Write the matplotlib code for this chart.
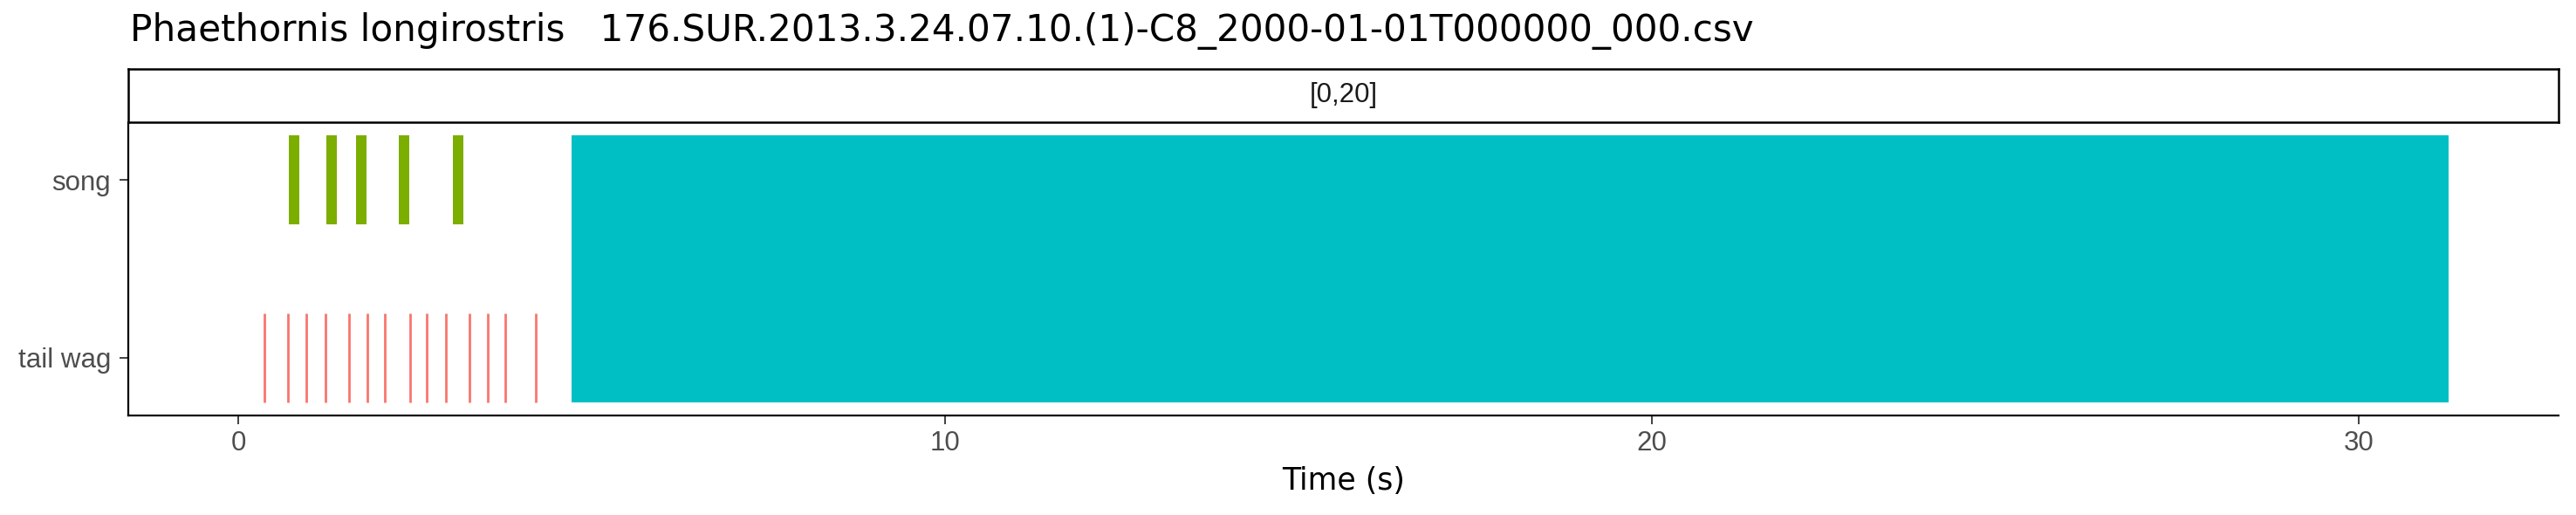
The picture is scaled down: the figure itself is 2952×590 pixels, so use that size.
"""
Ethogram timeline for one recording: song bouts, tail wags and the long
cyan event, drawn as rectangles on a time axis with a ggplot-like facet strip.
"""

import matplotlib
matplotlib.use("Agg")
import matplotlib.pyplot as plt
from matplotlib.patches import Rectangle

plt.rcParams["font.family"] = ["Liberation Sans", "DejaVu Sans"]

TITLE = "Phaethornis longirostris   176.SUR.2013.3.24.07.10.(1)-C8_2000-01-01T000000_000.csv"
STRIP_LABEL = "[0,20]"
BEHAVIOURS = ["tail wag", "song"]

# event times (s)
song_start = [0.716, 1.247, 1.667, 2.272, 3.037]
song_end = [0.864, 1.395, 1.815, 2.420, 3.185]
tail_wag = [0.367, 0.707, 0.967, 1.238, 1.572, 1.831, 2.078, 2.436,
            2.670, 2.938, 3.272, 3.535, 3.781, 4.206]
other_start = [4.716]
other_end = [31.27]

X_TICKS = [0, 10, 20, 30]

COL_SONG = "#7CAE00"
COL_WAG = "#F8766D"
COL_OTHER = "#00BFC4"

W, H, DPI = 2952, 590, 100
fig = plt.figure(figsize=(W / DPI, H / DPI), dpi=DPI)

# panel and strip positions in pixels
left, right, top, bottom = 147, 2932, 140, 476
strip_top = 79
ax = fig.add_axes([left / W, 1 - bottom / H, (right - left) / W, (bottom - top) / H])
sax = fig.add_axes([left / W, 1 - top / H, (right - left) / W, (top - strip_top) / H])

# long event spans both rows
for s, e in zip(other_start, other_end):
    ax.add_patch(Rectangle((s, 0.75), e - s, 1.5, facecolor=COL_OTHER, edgecolor="none"))

for s, e in zip(song_start, song_end):
    ax.add_patch(Rectangle((s, 1.75), e - s, 0.5, facecolor=COL_SONG, edgecolor="none"))

ax.vlines(tail_wag, 0.75, 1.25, color=COL_WAG, linewidth=2.0)

ax.set_xlim(-1.556, 32.83)
ax.set_ylim(0.675, 2.325)
ax.set_xticks(X_TICKS)
ax.set_xticklabels([str(t) for t in X_TICKS])
ax.set_yticks([1, 2])
ax.set_yticklabels(BEHAVIOURS)
ax.tick_params(axis="both", labelsize=22.5, labelcolor="#4D4D4D", color="#333333",
               length=7.2, width=1.3)
ax.tick_params(axis="x", pad=5)
ax.tick_params(axis="y", pad=7)
ax.spines[["top", "right"]].set_visible(False)
for sp in ("left", "bottom"):
    ax.spines[sp].set_linewidth(1.6)
    ax.spines[sp].set_color("black")

# facet strip
sax.set_xticks([])
sax.set_yticks([])
for sp in sax.spines.values():
    sp.set_linewidth(1.8)
    sp.set_color("black")
sax.text(0.5, 0.5, STRIP_LABEL, ha="center", va="center", fontsize=22.5,
         color="#1A1A1A", transform=sax.transAxes)

# axis title and plot title placed in figure pixels
fig.text((left + right) / 2 / W, 1 - 560.7 / H, "Time (s)", ha="center", va="baseline",
         fontsize=25, color="black", family="DejaVu Sans")
fig.text(149 / W, 1 - 46.7 / H, TITLE, ha="left", va="baseline", fontsize=30.3,
         color="black", family="DejaVu Sans")

fig.savefig("out.png", dpi=DPI)
